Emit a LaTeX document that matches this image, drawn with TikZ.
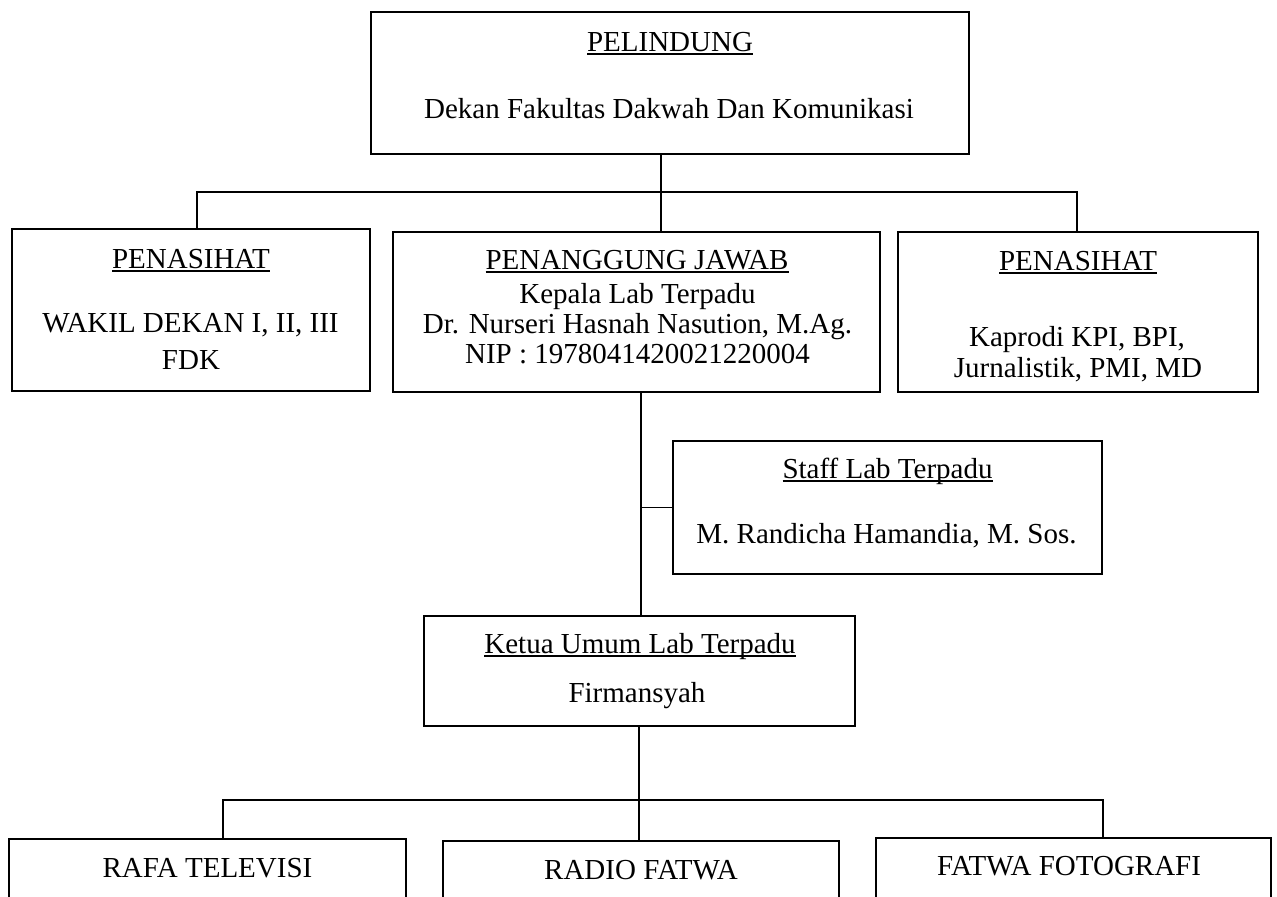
\documentclass[tikz,border=0pt]{standalone}
\usepackage{fontspec}
\setmainfont{Liberation Serif}
\newsavebox\undersave
\newcommand\undertext[1]{\sbox\undersave{#1}\usebox\undersave\kern-\wd\undersave\rule[-2pt]{\wd\undersave}{0.9pt}}

\begin{document}
\begin{tikzpicture}[x=0.5pt, y=-0.5pt,
  box/.style={draw, line width=1pt, inner sep=0pt},
  lbl/.style={anchor=base, inner sep=0pt, font=\fontsize{14.5}{17}\selectfont},
  link/.style={line width=0.9pt}]
\useasboundingbox (0,0) rectangle (1277,896);
\clip (0,0) rectangle (1277,896);

% boxes
\node[box, minimum width=299pt, minimum height=71pt] (pelindung) at (670,83) {};
\node[box, minimum width=179pt, minimum height=81pt] (penasihatL) at (191,310) {};
\node[box, minimum width=243.5pt, minimum height=80pt] (pj) at (636.5,312) {};
\node[box, minimum width=180pt, minimum height=80pt] (penasihatR) at (1078,312) {};
\node[box, minimum width=214.5pt, minimum height=66.5pt] (staff) at (887.5,507.5) {};
\node[box, minimum width=215.5pt, minimum height=55pt] (ketua) at (639.5,671) {};
\node[box, minimum width=198.5pt, minimum height=60.5pt] (rafa) at (207.5,899.5) {};
\node[box, minimum width=198pt, minimum height=59.5pt] (radio) at (641,900.5) {};
\node[box, minimum width=197.5pt, minimum height=61pt] (fotografi) at (1073.5,899) {};

% texts
\node[lbl] (tPelindung) at (670,51) {\undertext{PELINDUNG}};
\node[lbl] (tDekan) at (669,118) {Dekan Fakultas Dakwah Dan Komunikasi};
\node[lbl] (tPenL) at (191,268) {\undertext{PENASIHAT}};
\node[lbl] (tWakil) at (190.5,332) {WAKIL DEKAN I, II, III};
\node[lbl] (tFdk) at (191,369) {FDK};
\node[lbl] (tPj) at (637,269) {\undertext{PENANGGUNG JAWAB}};
\node[lbl] (tKepala) at (637.5,303) {Kepala Lab Terpadu};
\node[lbl] (tNurseri) at (637.5,333) {Dr. Nurseri Hasnah Nasution, M.Ag.};
\node[lbl] (tNip) at (637.5,363) {NIP : 1978041420021220004};
\node[lbl] (tPenR) at (1078,270) {\undertext{PENASIHAT}};
\node[lbl] (tKaprodi) at (1077,346) {Kaprodi KPI, BPI,};
\node[lbl] (tJurnal) at (1078,377) {Jurnalistik, PMI, MD};
\node[lbl] (tStaff) at (887.5,478) {\undertext{Staff Lab Terpadu}};
\node[lbl] (tRandicha) at (886.5,543) {M. Randicha Hamandia, M. Sos.};
\node[lbl] (tKetua) at (640,653) {\undertext{Ketua Umum Lab Terpadu}};
\node[lbl] (tFirman) at (637,702) {Firmansyah};
\node[lbl] (tRafa) at (207.5,877) {RAFA TELEVISI};
\node[lbl] (tRadio) at (641,879) {RADIO FATWA};
\node[lbl] (tFoto) at (1069,875) {FATWA FOTOGRAFI};

% connectors
\coordinate (jTop) at (661,192);
\coordinate (jL) at (197,192);
\coordinate (jR) at (1077,192);
\draw[link] (pelindung.south -| jTop) -- (jTop);
\draw[link] (penasihatL.north -| jL) -- (jL) -- (jR) -- (penasihatR.north -| jR);
\draw[link] (jTop) -- (pj.north -| jTop);

\coordinate (jStaff) at (641,507.5);
\draw[link] (pj.south -| jStaff) -- (ketua.north -| jStaff);
\draw[link] (jStaff) -- (staff.west);

\coordinate (jBot) at (639,800);
\coordinate (jBL) at (223,800);
\coordinate (jBR) at (1103,800);
\draw[link] (ketua.south -| jBot) -- (jBot);
\draw[link] (rafa.north -| jBL) -- (jBL) -- (jBR) -- (fotografi.north -| jBR);
\draw[link] (jBot) -- (radio.north -| jBot);
\end{tikzpicture}
\end{document}
